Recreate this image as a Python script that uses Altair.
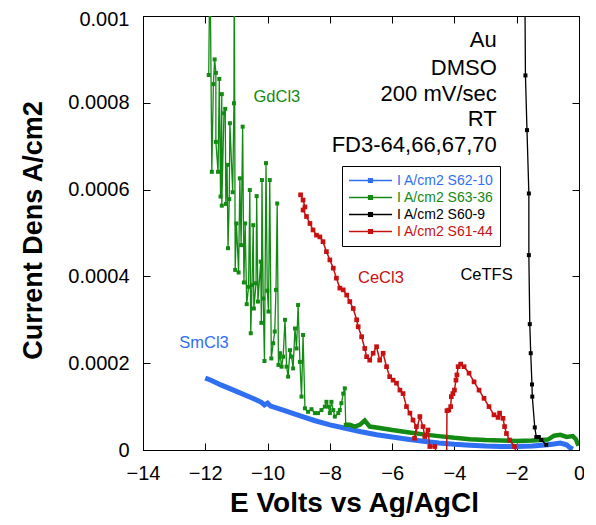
import altair as alt
import pandas as pd

# ---------------- data ----------------
x_ticks = [-14, -12, -10, -8, -6, -4, -2, 0]
y_ticks = [0, 0.0002, 0.0004, 0.0006, 0.0008, 0.001]

series_names = ["I A/cm2 S62-10", "I A/cm2 S63-36", "I A/cm2 S60-9", "I A/cm2 S61-44"]
series_colors = ["#2f6ff2", "#138a13", "#000000", "#c81010"]

# SmCl3 (blue)
blue_v = [-12.0, -11.8, -11.5, -11.0, -10.5, -10.2, -10.1, -10.0, -9.9, -9.5, -9.0, -8.5, -8.0,
          -7.5, -7.0, -6.5, -6.0, -5.5, -5.0, -4.5, -4.0, -3.5, -3.0, -2.5, -2.0, -1.5, -1.0,
          -0.8, -0.6, -0.4, -0.3, -0.2]
blue_i = [0.000166, 0.000160, 0.000150, 0.000135, 0.000120, 0.000110, 0.000104, 0.000108, 0.000101,
          0.000092, 0.000080, 0.000068, 0.000058, 0.000050, 0.000042, 0.000035, 0.000030, 0.000025,
          0.000020, 0.000016, 0.000013, 0.000011, 0.000009, 0.000008, 0.000008, 0.000009, 0.000012,
          0.000014, 0.000016, 0.000012, 0.000006, 0.000002]

# GdCl3 (green) noisy part
green_v = [-11.89, -11.85, -11.79, -11.74, -11.70, -11.66, -11.66, -11.59, -11.55, -11.51, -11.47,
           -11.47, -11.40, -11.36, -11.34, -11.30, -11.27, -11.23, -11.21, -11.12, -11.08, -11.07,
           -11.04, -11.00, -10.93, -10.89, -10.85, -10.80, -10.76, -10.72, -10.67, -10.61, -10.57,
           -10.54, -10.50, -10.46, -10.44, -10.37, -10.35, -10.31, -10.22, -10.20, -10.18, -10.14,
           -10.10, -10.05, -10.01, -9.97, -9.93, -9.88, -9.82, -9.77, -9.73, -9.69, -9.65, -9.60,
           -9.55, -9.50, -9.44, -9.39, -9.34, -9.28, -9.23, -9.18, -9.12, -9.07, -9.02, -8.96,
           -8.91, -8.86, -8.80, -8.70, -8.59, -8.48, -8.38, -8.27, -8.16, -8.11, -8.05, -8.00,
           -7.95, -7.89, -7.84, -7.73, -7.68, -7.63, -7.57, -7.52, -7.49]
green_i = [0.000864, 0.00115, 0.000641, 0.000843, 0.000900, 0.000869, 0.000710, 0.000641, 0.000855,
           0.000584, 0.000820, 0.000563, 0.000776, 0.000786, 0.000567, 0.000657, 0.000465, 0.000578,
           0.000753, 0.000594, 0.000799, 0.00115, 0.000415, 0.000522, 0.000409, 0.000626, 0.000472,
           0.000745, 0.000386, 0.000522, 0.000336, 0.000376, 0.000599, 0.000269, 0.000380, 0.000518,
           0.000326, 0.000384, 0.000585, 0.000342, 0.000434, 0.000293, 0.000622, 0.000349, 0.000205,
           0.000661, 0.000367, 0.000319, 0.000622, 0.000211, 0.000246, 0.000273, 0.000369, 0.000568,
           0.000196, 0.000223, 0.000192, 0.000215, 0.000300, 0.000192, 0.000169, 0.000230, 0.000215,
           0.000188, 0.000280, 0.000234, 0.000334, 0.000203, 0.000123, 0.000265, 0.000096, 0.000088,
           0.000094, 0.000085, 0.000085, 0.000092, 0.000100, 0.000111, 0.000100, 0.000085, 0.000111,
           0.000092, 0.000077, 0.000085, 0.000092, 0.000108, 0.000130, 0.000142, 0.000058]
# GdCl3 (green) dense tail
green_tail_v = [-7.49, -7.36, -7.20, -7.04, -6.88, -6.72, -6.5, -6.0, -5.5, -5.0, -4.5, -4.0,
                -3.5, -3.0, -2.5, -2.0, -1.5, -1.0, -0.8, -0.6, -0.4, -0.2, -0.1, -0.02]
green_tail_i = [0.000058, 0.000058, 0.000054, 0.000058, 0.000068, 0.000054, 0.000052,
                0.000046, 0.000041, 0.000036, 0.000032, 0.000028, 0.000025, 0.000023, 0.000022,
                0.000021, 0.000022, 0.000024, 0.000033, 0.000035, 0.000030, 0.000032, 0.000025, 0.000010]

# CeTFS (black)
black_v = [-1.75, -1.72, -1.67, -1.61, -1.61, -1.58, -1.55, -1.51, -1.50, -1.42, -1.37, -1.29,
           -1.21, -1.05]
black_i = [0.00120, 0.000863, 0.000737, 0.000591, 0.000449, 0.000290, 0.000223, 0.000151, 0.000123,
           0.000052, 0.000030, 0.000030, 0.000023, 0.000012]

# CeCl3 (red)
red_v = [-8.94, -8.86, -8.80, -8.86, -8.75, -8.64, -8.54, -8.43, -8.32, -8.22, -8.11, -8.00, -7.89,
         -7.79, -7.68, -7.57, -7.46, -7.36, -7.25, -7.14, -7.09, -6.98, -6.88, -6.82, -6.72, -6.61,
         -6.50, -6.40, -6.29, -6.18, -6.08, -5.97, -5.86, -5.75, -5.65, -5.54, -5.43, -5.33, -5.22,
         -5.28, -5.11, -5.01, -4.95, -4.85, -4.79, -4.63, -4.50, -4.25, -4.24, -4.18, -4.12, -4.10,
         -4.05, -4.00, -3.95, -3.92, -3.88, -3.80, -3.69, -3.53, -3.37, -3.21, -3.05, -2.89, -2.73,
         -2.60, -2.55, -2.44, -2.39, -2.33, -2.23, -2.07, -2.01]
red_i = [0.000588, 0.000576, 0.000560, 0.000553, 0.000538, 0.000522, 0.000507, 0.000495, 0.000491,
         0.000480, 0.000457, 0.000438, 0.000419, 0.000396, 0.000373, 0.000369, 0.000357, 0.000342,
         0.000326, 0.000300, 0.000284, 0.000261, 0.000234, 0.000215, 0.000207, 0.000223, 0.000238,
         0.000207, 0.000223, 0.000192, 0.000169, 0.000161, 0.000154, 0.000138, 0.000130, 0.000100,
         0.000085, 0.000069, 0.000054, 0.000027, 0.000077, 0.000054, 0.000031, 0.000046, 0.000008,
         0.000008, -0.00003, -0.00003, 0.0000906, 0.000092, 0.000100, 0.000123, 0.000130, 0.000138,
         0.000161, 0.000173, 0.000192, 0.000198, 0.000192, 0.000177, 0.000157, 0.000138, 0.000119,
         0.000100, 0.000081, 0.000075, 0.000085, 0.000073, 0.000054, 0.000038, 0.000023, 0.000008,
         -0.00001]

info_text = ["Au", "DMSO", "200 mV/sec", "RT", "FD3-64,66,67,70"]
info_y = [0.000945, 0.000880, 0.000820, 0.000763, 0.000703]
info_x = -2.64

label_text = ["GdCl3", "SmCl3", "CeCl3", "CeTFS"]
label_x = [-9.70, -12.04, -6.36, -2.97]
label_y = [0.000814, 0.000247, 0.000396, 0.000403]
label_color = ["#138a13", "#2f6ff2", "#c81010", "#000000"]

# ---------------- tables ----------------
segments = [
    (series_names[0], "blue", blue_v, blue_i, 5.0, 0),
    (series_names[1], "green", green_v, green_i, 1.3, 16),
    (series_names[1], "green_tail", green_tail_v, green_tail_i, 4.5, 0),
    (series_names[2], "black", black_v, black_i, 1.3, 16),
    (series_names[3], "red", red_v, red_i, 1.5, 22),
]
rows = []
for name, seg, vs, is_, w, ms in segments:
    for k, (v, i) in enumerate(zip(vs, is_)):
        rows.append({"series": name, "seg": seg, "idx": k, "V": v, "I": i, "w": w, "ms": ms})
df = pd.DataFrame(rows)
df_pts = df[df["ms"] > 0]

info_df = pd.DataFrame({"x": [info_x] * len(info_text), "y": info_y, "t": info_text})
lab_df = pd.DataFrame({"x": label_x, "y": label_y, "t": label_text, "c": label_color})

FONT = "Liberation Sans"

color_expr = " : ".join(
    f"datum.label == '{n}' ? '{c}'" for n, c in zip(series_names, series_colors)
) + " : 'black'"

legend = alt.Legend(
    title=None, orient="none", legendX=199, legendY=150,
    strokeColor="black", fillColor="white", padding=6,
    labelFont=FONT, labelFontSize=14, labelColor=alt.ExprRef(color_expr),
    symbolType="M-1,0H1M-0.09,-0.09H0.09V0.09H-0.09Z", symbolSize=1849,
    symbolStrokeWidth=1.3, clipHeight=17, rowPadding=0, labelOffset=4,
)
color = alt.Color("series:N", scale=alt.Scale(domain=series_names, range=series_colors),
                  sort=series_names, legend=legend)

xscale = alt.Scale(domain=[-14, 0], nice=False, zero=False)
yscale = alt.Scale(domain=[0, 0.001], nice=False)

x_main = alt.X("V:Q", scale=xscale, axis=alt.Axis(
    values=x_ticks, title="E Volts vs Ag/AgCl", titleFont=FONT, titleFontSize=28,
    titleFontWeight="bold", titleColor="black", titleX=211, titleY=61,
    titleBaseline="alphabetic", labelFont=FONT, labelFontSize=20, labelColor="black",
    tickSize=alt.ExprRef("-7"), labelPadding=20, tickColor="black", domainColor="black",
    grid=False, labelFlush=False))
y_main = alt.Y("I:Q", scale=yscale, axis=alt.Axis(
    values=y_ticks, title="Current Dens A/cm2", titleFont=FONT, titleFontSize=27,
    titleFontWeight="bold", titleColor="black", titleX=-110, titleY=214,
    titleAlign="center", titleBaseline="middle", titleAngle=270,
    labelFont=FONT, labelFontSize=20, labelColor="black", labelExpr="format(datum.value, '~g')",
    labelOffset=alt.ExprRef("datum.value >= 0.001 ? 3 : 0"),
    tickSize=alt.ExprRef("-7"), labelPadding=21, tickColor="black", domainColor="black",
    grid=False, labelFlush=False))

lines = alt.Chart(df).mark_line(clip=True).encode(
    x=x_main, y=y_main, color=color, detail="seg:N", order="idx:Q",
    strokeWidth=alt.StrokeWidth("w:Q", scale=None, legend=None),
)

points = alt.Chart(df_pts).mark_point(filled=True, shape="square", opacity=1, clip=True).encode(
    x=alt.X("V:Q", scale=xscale, axis=alt.Axis(values=x_ticks, orient="top", labels=False,
            title=None, tickSize=alt.ExprRef("-7"), tickColor="black", domainColor="black", grid=False)),
    y=alt.Y("I:Q", scale=yscale, axis=alt.Axis(values=y_ticks, orient="right", labels=False,
            title=None, tickSize=alt.ExprRef("-7"), tickColor="black", domainColor="black", grid=False)),
    color=color,
    size=alt.Size("ms:Q", scale=None, legend=None),
)

info = alt.Chart(info_df).mark_text(align="right", baseline="middle", font=FONT, fontSize=22,
                                     color="black").encode(
    x=alt.X("x:Q", scale=xscale, axis=None), y=alt.Y("y:Q", scale=yscale, axis=None), text="t:N")

labels = alt.Chart(lab_df).mark_text(align="center", baseline="middle", font=FONT, fontSize=16.5).encode(
    x=alt.X("x:Q", scale=xscale, axis=None), y=alt.Y("y:Q", scale=yscale, axis=None), text="t:N",
    color=alt.Color("c:N", scale=None, legend=None))

chart = alt.layer(lines, points, info, labels).resolve_axis(
    x="independent", y="independent"
).properties(
    width=436, height=434,
    autosize=alt.AutoSizeParams(type="none"),
    padding={"left": 135, "top": 8, "right": 5, "bottom": 67},
).configure_view(stroke="black", strokeWidth=1)

chart.save("out.html", embed_options={"renderer": "svg", "actions": False})
